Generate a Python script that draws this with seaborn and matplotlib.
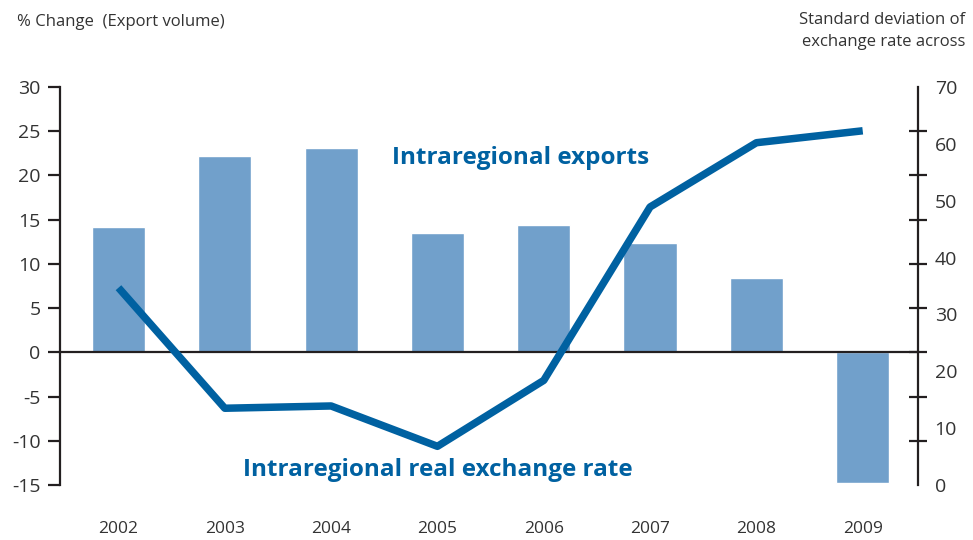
import matplotlib
matplotlib.use("Agg")
import matplotlib.pyplot as plt
import matplotlib.transforms as mtransforms
import numpy as np
import pandas as pd
import seaborn as sns

years = ["2002", "2003", "2004", "2005", "2006", "2007", "2008", "2009"]
export_change = [14.2, 22.2, 23.1, 13.5, 14.4, 12.4, 8.4, -14.8]
fx_std_dev = [34.7, 13.5, 13.9, 6.8, 18.4, 48.9, 60.2, 62.3]

BAR_COLOR = "#71a0cb"
LINE_COLOR = "#0061a1"
TEXT_COLOR = "#333333"
AXIS_COLOR = "#231f20"

sns.set_style("white")
plt.rcParams["font.family"] = ["Open Sans", "DejaVu Sans"]
plt.rcParams["axes.unicode_minus"] = False

df = pd.DataFrame({"year": years, "exports": export_change, "fx": fx_std_dev})
df["pos"] = np.arange(len(years))

fig = plt.figure(figsize=(9.73, 5.40), dpi=100)
ax = fig.add_axes([60 / 973, 55 / 540, 858 / 973, 398 / 540])

sns.barplot(data=df, x="year", y="exports", color=BAR_COLOR, width=0.5,
            saturation=1, ax=ax)
ax.set_xlim(-0.55, len(years) - 0.48)
ax.set_ylim(-15, 30)
ax.set_xlabel("")
ax.set_ylabel("")

# left axis
left_ticks = np.arange(-15, 31, 5)
ax.set_yticks(left_ticks)
ax.tick_params(axis="y", direction="out", length=9, width=1.6, color=AXIS_COLOR,
               labelsize=14, labelcolor=TEXT_COLOR, pad=5)
for s in ["top", "right"]:
    ax.spines[s].set_visible(False)
ax.spines["left"].set_color(AXIS_COLOR)
ax.spines["left"].set_linewidth(1.6)

# zero line as the x axis, with ticks between the years
ax.spines["bottom"].set_position(("data", 0))
ax.spines["bottom"].set_color(AXIS_COLOR)
ax.spines["bottom"].set_linewidth(1.6)
ax.set_xticks(df["pos"])
ax.set_xticklabels([])
ax.tick_params(axis="x", which="major", length=0)
ax.set_xticks(df["pos"][:-1] + 0.5, minor=True)
ax.tick_params(axis="x", which="minor", direction="inout", length=13, width=1.6,
               color=AXIS_COLOR)
trans = mtransforms.blended_transform_factory(ax.transData, ax.transAxes)
for p, y in zip(df["pos"], years):
    ax.text(p, -0.11, y, transform=trans, ha="center", va="center",
            fontsize=12.5, color=TEXT_COLOR)

# right axis
ax2 = ax.twinx()
sns.lineplot(data=df, x="pos", y="fx", color=LINE_COLOR, linewidth=5.4, ax=ax2,
             solid_capstyle="butt")
ax2.set_ylim(0, 70)
ax2.set_xlim(ax.get_xlim())
ax2.set_xlabel("")
ax2.set_ylabel("")
ax2.set_yticks(np.arange(0, 71, 10))
ax2.tick_params(axis="y", which="major", length=0, labelsize=14,
                labelcolor=TEXT_COLOR, pad=12)
ax2.set_yticks((left_ticks + 15) / 45 * 70, minor=True)
ax2.tick_params(axis="y", which="minor", direction="inout", length=13, width=1.6,
                color=AXIS_COLOR)
for s in ["top", "left", "bottom"]:
    ax2.spines[s].set_visible(False)
ax2.spines["right"].set_color(AXIS_COLOR)
ax2.spines["right"].set_linewidth(1.6)

# annotations
ax.text(3.78, 22.0, "Intraregional exports", ha="center", va="center",
        fontsize=17.5, fontweight="bold", color=LINE_COLOR)
ax.text(3.0, -13.3, "Intraregional real exchange rate", ha="center", va="center",
        fontsize=17.5, fontweight="bold", color=LINE_COLOR)

fig.text(17 / 973, 1 - 22 / 540, "% Change  (Export volume)", ha="left",
         va="center", fontsize=12, color=TEXT_COLOR)
fig.text(965 / 973, 1 - 31 / 540, "Standard deviation of\nexchange rate across",
         ha="right", va="center", fontsize=12, color=TEXT_COLOR, linespacing=1.45)

fig.savefig("out.png", dpi=100)
